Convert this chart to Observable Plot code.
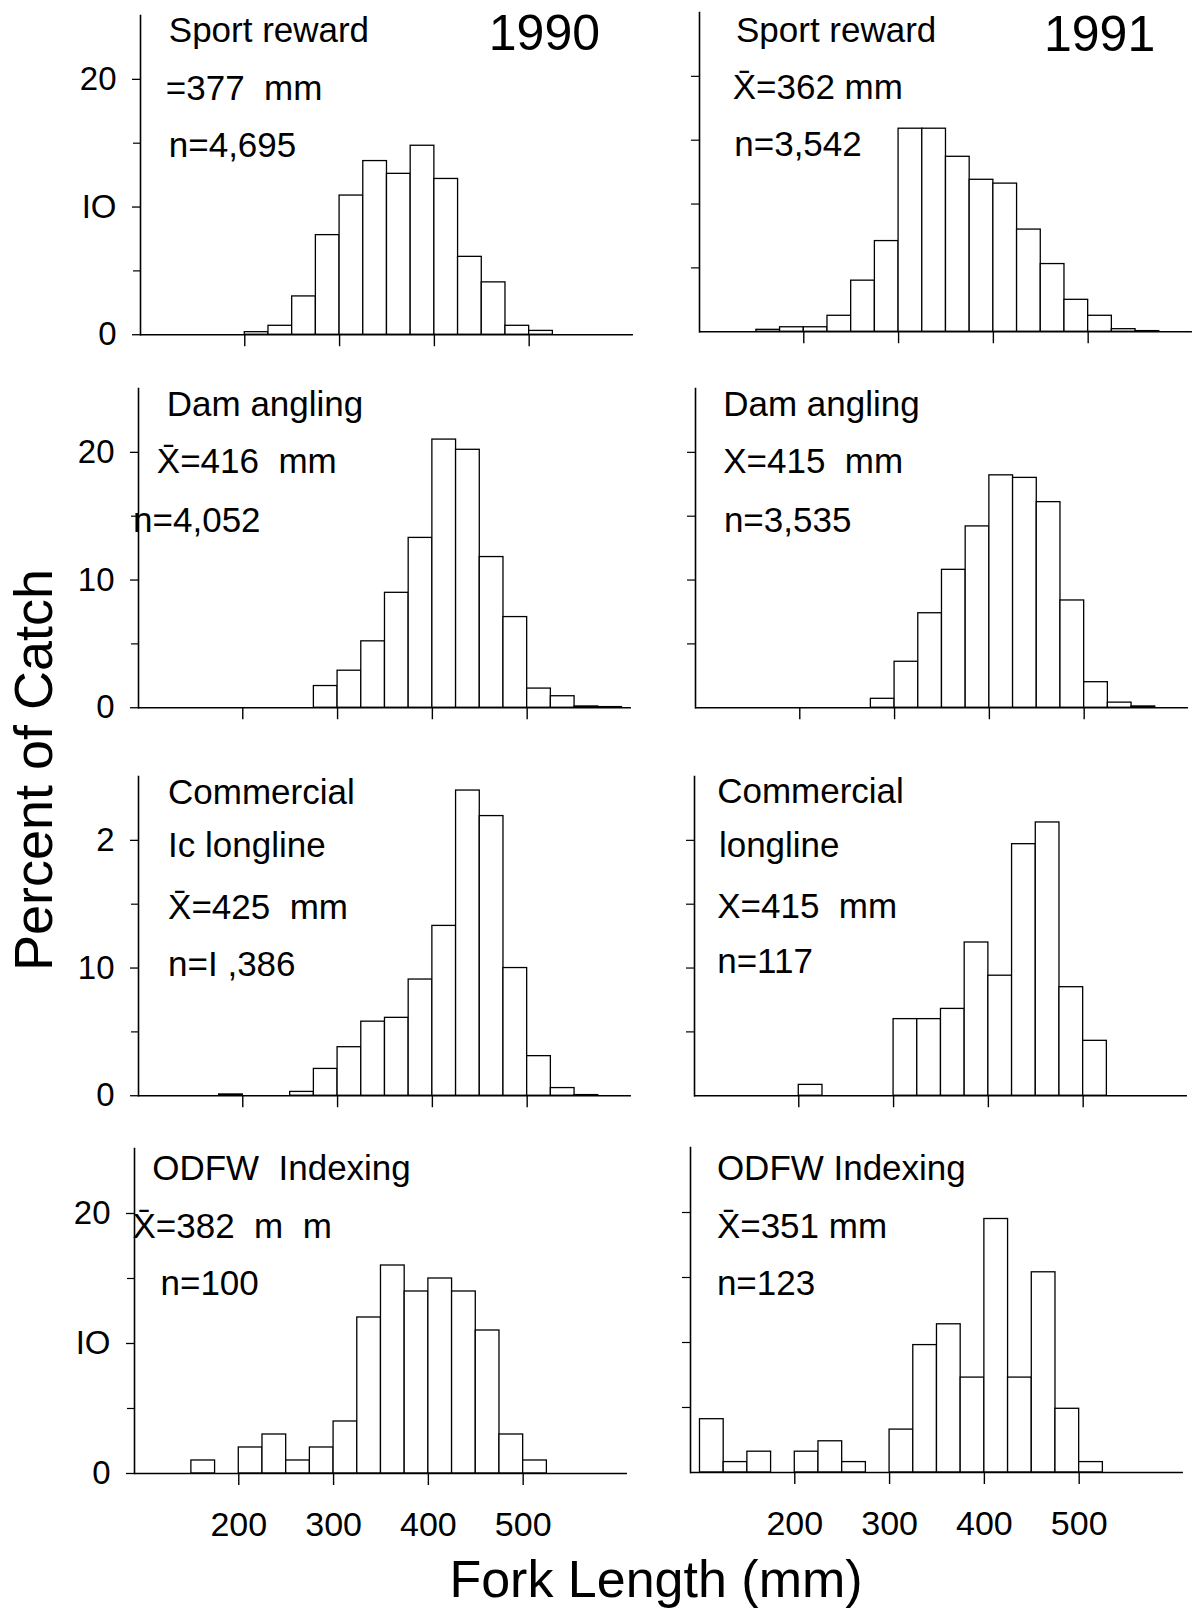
<!DOCTYPE html>
<html><head><meta charset="utf-8">
<script src="https://cdn.jsdelivr.net/npm/d3@7"></script>
<script src="https://cdn.jsdelivr.net/npm/@observablehq/plot@0.6"></script>
<style>
body{margin:0;background:#fff;}
#fig{position:relative;width:1196px;height:1608px;background:#fff;overflow:hidden;font-family:"Liberation Sans",Arial,Helvetica,sans-serif;}
#fig svg{position:absolute;overflow:visible;}
#fig svg text{white-space:pre;}
</style></head><body><div id="fig"></div>
<script>
// ---------- data ----------
const binStarts = [100,125,150,175,200,225,250,275,300,325,350,375,400,425,450,475,500,525,550,575];
const binWidth = 25;
const sport1990 = [0,0,0,0, 0.2,0.7,3.0,7.8, 10.9,13.6,12.6,14.8, 12.2,6.1,4.1,0.7, 0.3,0,0,0];
const sport1991 = [0,0,0.15,0.35, 0.35,1.25,4.0,7.1, 15.9,15.9,13.7,11.9, 11.6,8.0,5.3,2.5, 1.25,0.2,0.05,0];
const dam1990   = [0,0,0,0, 0,0,0,1.7, 2.9,5.2,9.0,13.3, 21.0,20.2,11.8,7.1, 1.5,0.9,0.1,0.05];
const dam1991   = [0,0,0,0, 0,0,0,0.7, 3.6,7.4,10.8,14.2, 18.2,18.0,16.1,8.4, 2.0,0.4,0.1,0];
const comm1990  = [0,0,0,0.1, 0,0,0.3,2.1, 3.8,5.8,6.1,9.1, 13.3,23.9,21.9,10.0, 3.1,0.6,0.05,0];
const comm1991  = [0,0,0,0, 0.85,0,0,0, 6.0,6.0,6.8,12.0, 9.4,19.7,21.4,8.5, 4.3,0,0,0];
const odfw1990  = [0,0,1,0, 2,3,1,2, 4,12,16,14, 15,14,11,3, 1,0,0,0];
const odfw1991  = [4.1,0.8,1.6,0, 1.6,2.4,0.8,0, 3.3,9.8,11.4,7.3, 19.5,7.3,15.4,4.9, 0.8,0,0,0];

const xTicks = [200,300,400,500];
const yMajorTicks = [0,10,20];
const yMinorTicks = [5,15];
const yRightTicks = [5,10,15,20];
const yTickText1 = ["0","IO","20"];
const yTickText2 = ["0","10","20"];
const yTickText3 = ["0","10","2"];
const yTickText4 = ["0","IO","20"];

const text1990Sport = ["Sport reward","=377  mm","n=4,695","1990"];
const text1991Sport = ["Sport reward","X\u0304=362 mm","n=3,542","1991"];
const text1990Dam   = ["Dam angling","X\u0304=416  mm","n=4,052"];
const text1991Dam   = ["Dam angling","X=415  mm","n=3,535"];
const text1990Comm  = ["Commercial","Ic longline","X\u0304=425  mm","n=I ,386"];
const text1991Comm  = ["Commercial","longline","X=415  mm","n=117"];
const text1990Odfw  = ["ODFW  Indexing","X\u0304=382  m  m","n=100"];
const text1991Odfw  = ["ODFW Indexing","X\u0304=351 mm","n=123"];

const yTitle = "Percent of Catch";
const xTitle = "Fork Length (mm)";

// ---------- layout (pixel placement) ----------
const FONT = '"Liberation Sans", Arial, Helvetica, sans-serif';
const xDomain = [90, 610];
const pxPerMm = 0.948;
const panels = [
  {values:sport1990, text:text1990Sport, yText:yTickText1, row:0, col:0, ax:139.7, base:334.4, unit:12.77,
   pos:[[168,42,35],[165,100,35],[168,157,35],[488,50,50]]},
  {values:sport1991, text:text1991Sport, yText:null, row:0, col:1, ax:698.5, base:331, unit:12.77,
   pos:[[735,41.7,35],[731.7,98.3,35],[733.3,155,35],[1043,50,50]]},
  {values:dam1990, text:text1990Dam, yText:yTickText2, row:1, col:0, ax:138.4, base:707.7, unit:12.77,
   pos:[[166.7,416,35],[156.7,473.3,35],[133,532.3,35]]},
  {values:dam1991, text:text1991Dam, yText:null, row:1, col:1, ax:695.2, base:707.7, unit:12.77,
   pos:[[722.9,416,35],[722.9,473.3,35],[723.6,532.3,35]]},
  {values:comm1990, text:text1990Comm, yText:yTickText3, row:2, col:0, ax:138.4, base:1095, unit:12.77,
   pos:[[168,803.3,35],[168,856.7,35],[168,918.3,35],[168,975,35]]},
  {values:comm1991, text:text1991Comm, yText:null, row:2, col:1, ax:694, base:1095.7, unit:12.77,
   pos:[[716.7,803.3,35],[718.4,856.7,35],[716.7,918.3,35],[716.7,973.3,35]]},
  {values:odfw1990, text:text1990Odfw, yText:yTickText4, row:3, col:0, ax:134, base:1473.3, unit:13.0,
   pos:[[151.7,1180,35],[132,1238.3,35],[160,1295,35]]},
  {values:odfw1991, text:text1991Odfw, yText:null, row:3, col:1, ax:690.3, base:1472.3, unit:13.0,
   pos:[[716.7,1180,35],[716.7,1238.3,35],[716.7,1295,35]]}
];

const fig = document.getElementById("fig");

function drawPanel(p){
  const plotW = (xDomain[1]-xDomain[0]) * pxPerMm;
  const plotH = 25 * p.unit;
  const mL = 80, mR = 10, mT = 30, mB = p.row === 3 ? 100 : 30;
  const frameTop = p.base - plotH;
  const data = binStarts.map((s,i)=>({start:s, end:s+binWidth, pct:p.values[i]})).filter(d=>d.pct>0);
  const labels = p.text.map((t,i)=>({t, dx:p.pos[i][0]-p.ax, dy:p.pos[i][1]-frameTop, fs:p.pos[i][2]}));
  const marks = [
    Plot.rect(data, {x1:"start", x2:"end", y1:0, y2:"pct", fill:"white", stroke:"black", strokeWidth:1.3}),
    Plot.ruleY([0], {stroke:"black", strokeWidth:1.6}),
    Plot.frame({anchor:"left", stroke:"black", strokeWidth:1.6}),
    Plot.axisX({ticks:xTicks, tickSize:12, tickPadding:26, stroke:"black", strokeWidth:1.4, fill:"black",
      fontSize:34, fontFamily:FONT, tickFormat: p.row === 3 ? (d=>String(d)) : (()=>"")})
  ];
  if (p.yText) {
    const lbl = p.yText;
    marks.push(Plot.axisY({ticks:yMajorTicks, tickSize:8, tickPadding:16, stroke:"black", strokeWidth:1.3, fill:"black",
      fontSize:33, fontFamily:FONT, tickFormat: d => lbl[yMajorTicks.indexOf(d)]}));
    marks.push(Plot.axisY({ticks:yMinorTicks, tickSize:7, stroke:"black", strokeWidth:1.2, tickFormat: ()=>""}));
  } else {
    marks.push(Plot.axisY({ticks:yRightTicks, tickSize:8, stroke:"black", strokeWidth:1.2, tickFormat: ()=>""}));
  }
  for (const l of labels) {
    marks.push(Plot.text([l.t], {text:d=>d, frameAnchor:"top-left", dx:l.dx, dy:l.dy, textAnchor:"start",
      lineAnchor:"bottom", fontSize:l.fs, fontFamily:FONT, fill:"black"}));
  }
  const svg = Plot.plot({
    width: mL + plotW + mR, height: mT + plotH + mB,
    marginLeft:mL, marginRight:mR, marginTop:mT, marginBottom:mB,
    x:{domain:xDomain, label:null}, y:{domain:[0,25], label:null},
    style:{fontFamily:FONT, color:"black", background:"transparent", overflow:"visible"},
    marks
  });
  svg.style.left = (p.ax - mL) + "px";
  svg.style.top = (frameTop - mT) + "px";
  fig.appendChild(svg);
}
panels.forEach(drawPanel);

// axis titles
const ov = d3.select(fig).append("svg").attr("width",1196).attr("height",1608).style("left","0px").style("top","0px").style("pointer-events","none");
ov.append("text").attr("transform","translate(52,770) rotate(-90)").attr("text-anchor","middle")
  .attr("font-family",FONT).attr("font-size",54).attr("fill","black").text(yTitle);
ov.append("text").attr("x",656).attr("y",1597).attr("text-anchor","middle")
  .attr("font-family",FONT).attr("font-size",52).attr("fill","black").text(xTitle);
</script></body></html>
